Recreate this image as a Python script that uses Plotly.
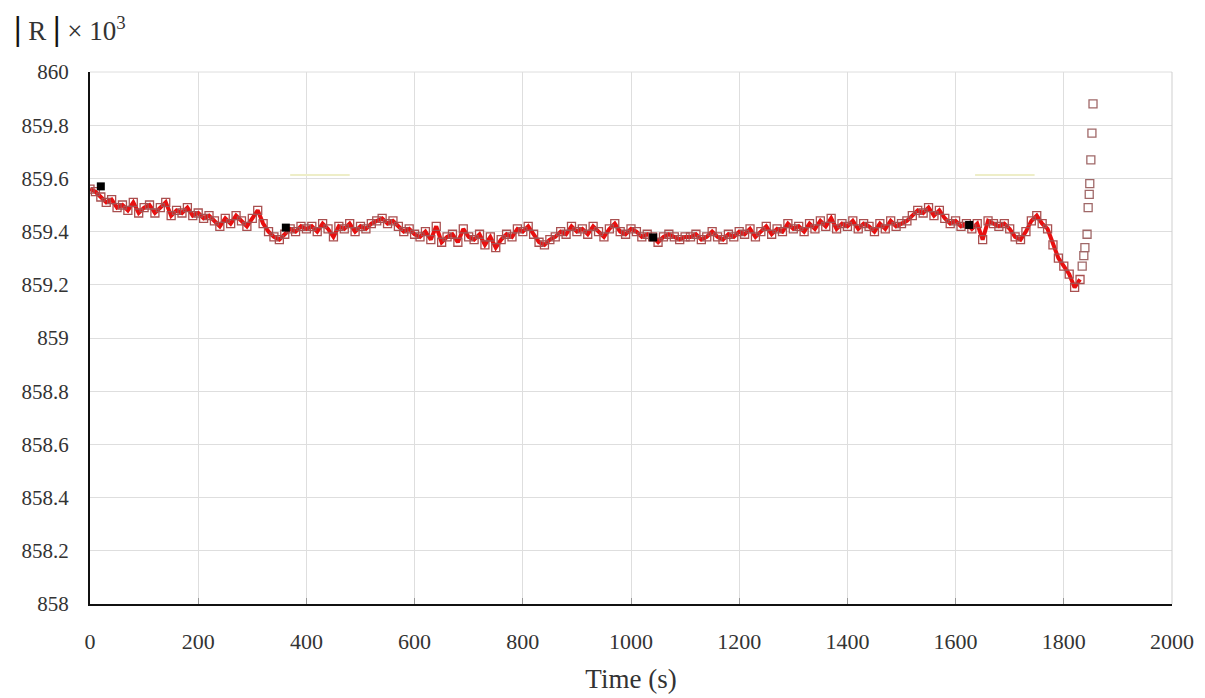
import plotly.graph_objects as go

# ---- data ----
time_s = list(range(0, 1840, 10))  # 0 .. 1830
r_values = [
    859.56, 859.55, 859.53, 859.51, 859.52, 859.49, 859.50, 859.48, 859.51, 859.47,
    859.49, 859.50, 859.47, 859.49, 859.51, 859.46, 859.48, 859.47, 859.49, 859.46,
    859.47, 859.45, 859.46, 859.44, 859.42, 859.45, 859.43, 859.46, 859.44, 859.42,
    859.45, 859.48, 859.43, 859.40, 859.38, 859.37, 859.39, 859.41, 859.40, 859.42,
    859.41, 859.42, 859.40, 859.43, 859.41, 859.38, 859.42, 859.41, 859.43, 859.40,
    859.42, 859.41, 859.43, 859.44, 859.45, 859.43, 859.44, 859.42, 859.40, 859.41,
    859.39, 859.38, 859.40, 859.37, 859.42, 859.36, 859.38, 859.39, 859.36, 859.41,
    859.38, 859.37, 859.39, 859.35, 859.38, 859.34, 859.37, 859.39, 859.38, 859.41,
    859.40, 859.42, 859.39, 859.36, 859.35, 859.37, 859.38, 859.40, 859.39, 859.42,
    859.40, 859.41, 859.39, 859.42, 859.40, 859.38, 859.41, 859.43, 859.40, 859.39,
    859.41, 859.40, 859.38, 859.39, 859.38, 859.36, 859.38, 859.39, 859.38, 859.37,
    859.38, 859.38, 859.39, 859.37, 859.38, 859.40, 859.38, 859.37, 859.39, 859.38,
    859.40, 859.39, 859.41, 859.38, 859.40, 859.42, 859.39, 859.41, 859.40, 859.43,
    859.41, 859.42, 859.40, 859.43, 859.41, 859.44, 859.42, 859.45, 859.41, 859.43,
    859.42, 859.44, 859.41, 859.43, 859.42, 859.40, 859.43, 859.41, 859.44, 859.42,
    859.43, 859.44, 859.46, 859.48, 859.47, 859.49, 859.46, 859.48, 859.45, 859.43,
    859.44, 859.42, 859.43, 859.41, 859.43, 859.37, 859.44, 859.43, 859.42, 859.43,
    859.41, 859.38, 859.37, 859.40, 859.44, 859.46, 859.43, 859.41, 859.35, 859.30,
    859.27, 859.24, 859.19, 859.22,
]

tail_time = [1834, 1837, 1839, 1843, 1845, 1847, 1848, 1850, 1852, 1854]
tail_values = [859.27, 859.31, 859.34, 859.39, 859.49, 859.54, 859.58, 859.67, 859.77, 859.88]

ref_time = [20, 362, 1041, 1625]
ref_values = [859.57, 859.415, 859.378, 859.425]

faint_time_a = [370, 480]
faint_time_b = [1636, 1746]
faint_values = [859.613, 859.613]

x_ticks = list(range(0, 2001, 200))
y_ticks = [858, 858.2, 858.4, 858.6, 858.8, 859, 859.2, 859.4, 859.6, 859.8, 860]
y_ticktext = ["858", "858.2", "858.4", "858.6", "858.8", "859", "859.2", "859.4", "859.6", "859.8", "860"]

FONT = "Liberation Serif"

fig = go.Figure()

fig.add_trace(go.Scatter(x=faint_time_a, y=faint_values, mode="lines",
                         line=dict(color="#eeeec8", width=2), hoverinfo="skip", showlegend=False))
fig.add_trace(go.Scatter(x=faint_time_b, y=faint_values, mode="lines",
                         line=dict(color="#eeeec8", width=2), hoverinfo="skip", showlegend=False))

fig.add_trace(go.Scatter(
    x=time_s, y=r_values, mode="lines+markers",
    line=dict(color="#e81010", width=4),
    marker=dict(symbol="square-open", size=8, color="#a85050", line=dict(width=1.3, color="#a85050")),
    showlegend=False,
))
fig.add_trace(go.Scatter(
    x=tail_time, y=tail_values, mode="markers",
    marker=dict(symbol="square-open", size=8, color="#a06868", line=dict(width=1.3, color="#a06868")),
    showlegend=False,
))
fig.add_trace(go.Scatter(
    x=ref_time, y=ref_values, mode="markers",
    marker=dict(symbol="square", size=8, color="#000000"),
    showlegend=False,
))

fig.update_layout(
    width=1205, height=698,
    margin=dict(l=90, r=33, t=72, b=94),
    paper_bgcolor="white", plot_bgcolor="white",
    font=dict(family=FONT, color="#333333", size=18),
    xaxis=dict(
        range=[0, 2000], tickvals=x_ticks, ticktext=[str(v) for v in x_ticks],
        showgrid=True, gridcolor="#dedede", gridwidth=1,
        showline=True, linecolor="#111111", linewidth=2,
        ticks="inside", ticklen=6, tickcolor="#999999",
        ticklabelstandoff=17, zeroline=False, automargin=False,
        tickfont=dict(family=FONT, size=22, color="#333333"),
        title=dict(text="Time (s)", font=dict(family=FONT, size=27, color="#333333"), standoff=16),
        mirror=False,
    ),
    yaxis=dict(
        range=[858, 860], tickvals=y_ticks, ticktext=y_ticktext,
        showgrid=True, gridcolor="#dedede", gridwidth=1,
        showline=True, linecolor="#111111", linewidth=2,
        ticks="", ticklabelstandoff=15, zeroline=False, automargin=False,
        tickfont=dict(family=FONT, size=21, color="#333333"),
    ),
    shapes=[
        dict(type="line", xref="paper", yref="paper", x0=0, x1=1, y0=1, y1=1,
             line=dict(color="#dedede", width=1)),
        dict(type="line", xref="paper", yref="paper", x0=1, x1=1, y0=0, y1=1,
             line=dict(color="#cfcfcf", width=1)),
    ],
    annotations=[
        dict(text="<span style='font-size:34px;color:#111111'><b>|</b></span> R "
                  "<span style='font-size:34px;color:#111111'><b>|</b></span> × 10<sup>3</sup>",
             xref="paper", yref="paper",
             x=-0.072, y=1.082, xanchor="left", yanchor="middle", showarrow=False,
             font=dict(family=FONT, size=27, color="#333333")),
    ],
)

fig.write_html("out.html")
